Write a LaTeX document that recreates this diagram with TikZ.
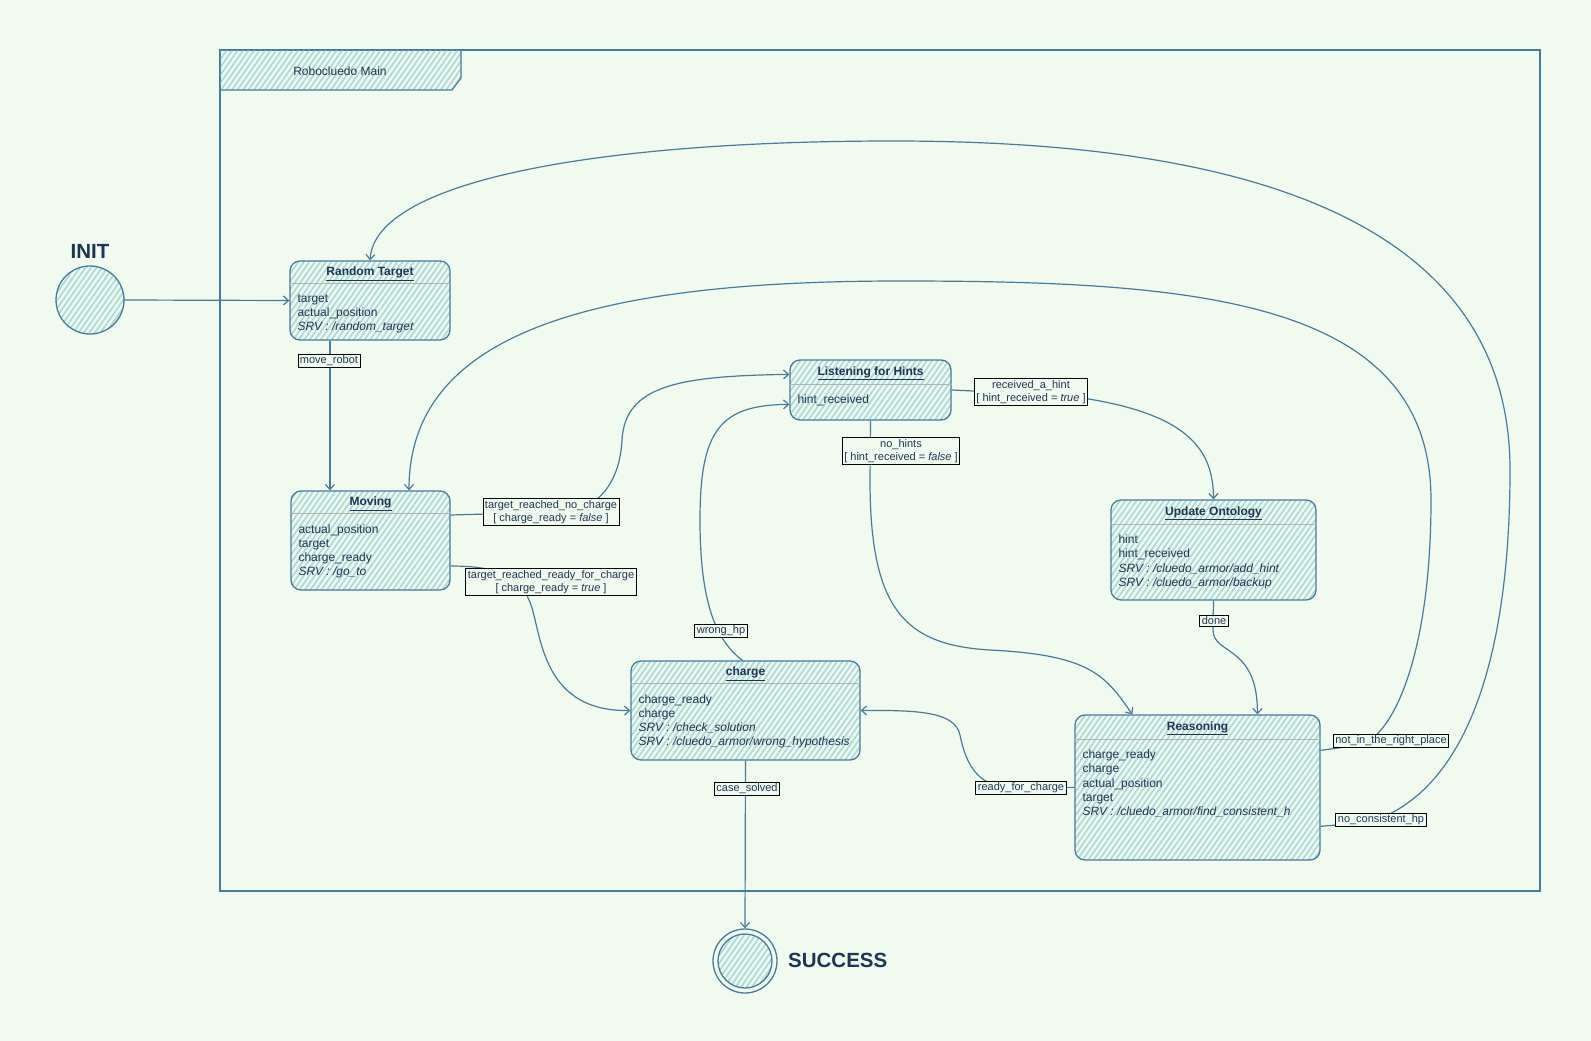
\documentclass[tikz,border=0pt]{standalone}
\usepackage{fontspec}
\setmainfont{Liberation Sans}
\usetikzlibrary{arrows.meta,patterns.meta,calc}
\definecolor{bgc}{HTML}{F1FAEE}
\definecolor{stk}{HTML}{457B9D}
\definecolor{hat}{HTML}{A8DADC}
\definecolor{fnt}{HTML}{1D3557}
\tikzset{
  hatchfill/.style={pattern={Lines[angle=55,distance=4.5pt,line width=1.7pt]}, pattern color=hat},
  stbox/.style={draw=stk, line width=1.3pt, rounded corners=10pt, hatchfill, inner sep=0pt},
  sttitle/.style={font=\fontsize{12}{14}\selectfont\bfseries, text=fnt, inner sep=0pt},
  stbody/.style={font=\fontsize{12}{14.2}\selectfont, text=fnt, align=left, anchor=north west, inner sep=0pt},
  hdrline/.style={draw=gray!60, line width=1pt},
  conn/.style={draw=stk, line width=1.2pt, -{Straight Barb[length=5pt,width=9pt]}},
  lbl/.style={draw=black, line width=0.8pt, fill=bgc, font=\fontsize{11}{13}\selectfont, text=fnt, inner xsep=2pt, inner ysep=1.5pt, align=center},
  bigtxt/.style={font=\fontsize{20.5}{24}\selectfont\bfseries, text=fnt, inner sep=0pt},
}
\begin{document}
\begin{tikzpicture}[x=1pt,y=-1pt]
\fill[bgc] (0,0) rectangle (1591,1041);
\useasboundingbox (0,0) rectangle (1591,1041);

% frame
\draw[stk, line width=1.2pt] (220,50) rectangle (1540,891);
\filldraw[draw=stk, line width=1.2pt, hatchfill] (220,50) -- (461,50) -- (461,78) -- (452,90) -- (220,90) -- cycle;
\node[font=\fontsize{12}{14}\selectfont, text=fnt] (ttl) at (340,71) {Robocluedo Main};

% initial / final
\node[bigtxt] (initlbl) at (90,251) {INIT};
\node[circle, draw=stk, line width=1.3pt, hatchfill, minimum size=68pt, inner sep=0pt] (init) at (90,300) {};
\node[circle, draw=stk, line width=1.3pt, minimum size=64pt, inner sep=0pt] (succ) at (745,961) {};
\node[circle, draw=stk, line width=1.3pt, hatchfill, minimum size=54pt, inner sep=0pt] (succin) at (745,961) {};
\node[bigtxt, anchor=west] (succlbl) at (788,960) {SUCCESS};

% Random Target
\node[stbox, minimum width=160pt, minimum height=79pt] (rt) at (370,300.5) {};
\node[sttitle] (rtt) at ($(rt.north)+(0,13.5)$) {\underline{Random Target}};
\draw[hdrline] ($(rt.north west)+(0,23)$) -- ($(rt.north east)+(0,23)$);
\node[stbody] (rtb) at ($(rt.north west)+(8,34)$) {target\\actual\_position\\\textit{SRV : /random\_target}};

% Moving
\node[stbox, minimum width=159pt, minimum height=99pt] (mv) at (370.5,540.5) {};
\node[sttitle] (mvt) at ($(mv.north)+(0,13.5)$) {\underline{Moving}};
\draw[hdrline] ($(mv.north west)+(0,23)$) -- ($(mv.north east)+(0,23)$);
\node[stbody] (mvb) at ($(mv.north west)+(8,34)$) {actual\_position\\target\\charge\_ready\\\textit{SRV : /go\_to}};

% Listening for Hints
\node[stbox, minimum width=161pt, minimum height=60pt] (ls) at (870.5,390) {};
\node[sttitle] (lst) at ($(ls.north)+(0,14)$) {\underline{Listening for Hints}};
\draw[hdrline] ($(ls.north west)+(0,25)$) -- ($(ls.north east)+(0,25)$);
\node[stbody] (lsb) at ($(ls.north west)+(8,35.5)$) {hint\_received};

% Update Ontology
\node[stbox, minimum width=205pt, minimum height=100pt] (uo) at (1213.5,550) {};
\node[sttitle] (uot) at ($(uo.north)+(0,14)$) {\underline{Update Ontology}};
\draw[hdrline] ($(uo.north west)+(0,25)$) -- ($(uo.north east)+(0,25)$);
\node[stbody] (uob) at ($(uo.north west)+(8,35.5)$) {hint\\hint\_received\\\textit{SRV : /cluedo\_armor/add\_hint}\\\textit{SRV : /cluedo\_armor/backup}};

% charge
\node[stbox, minimum width=229pt, minimum height=99pt] (ch) at (745.5,710.5) {};
\node[sttitle] (cht) at ($(ch.north)+(0,13.5)$) {\underline{charge}};
\draw[hdrline] ($(ch.north west)+(0,23)$) -- ($(ch.north east)+(0,23)$);
\node[stbody] (chb) at ($(ch.north west)+(8,34)$) {charge\_ready\\charge\\\textit{SRV : /check\_solution}\\\textit{SRV : /cluedo\_armor/wrong\_hypothesis}};

% Reasoning
\node[stbox, minimum width=245pt, minimum height=145pt] (rs) at (1197.5,787.5) {};
\node[sttitle] (rst) at ($(rs.north)+(0,14)$) {\underline{Reasoning}};
\draw[hdrline] ($(rs.north west)+(0,25)$) -- ($(rs.north east)+(0,25)$);
\node[stbody] (rsb) at ($(rs.north west)+(8,35.5)$) {charge\_ready\\charge\\actual\_position\\target\\\textit{SRV : /cluedo\_armor/find\_consistent\_h}};

% connectors
\draw[conn] (init.east) -- (rt.west);
\draw[conn] ($(rt.south)+(-40,0)$) -- ($(mv.north)+(-40.5,0)$);
\draw[conn] ($(mv.east)+(0,-25.5)$) -- (560,512) .. controls (600,511) and (620,480) .. (622,440)
   .. controls (625,385) and (680,376) .. ($(ls.north west)+(0,15)$);
\draw[conn] ($(mv.east)+(0,25.5)$) .. controls (500,566) and (522,578) .. (528,598)
   .. controls (542,622) and (535,712) .. (ch.west);
\draw[conn] ($(ch.north)+(-3,0)$) .. controls (715,640) and (700,600) .. (700,520)
   .. controls (700,430) and (720,405) .. ($(ls.north west)+(0,45)$);
\draw[conn] (ls.south) -- (870,480) .. controls (870,610) and (905,645) .. (990,650)
   .. controls (1090,655) and (1105,675) .. ($(rs.north west)+(58,0)$);
\draw[conn] (ls.east) -- (1060,395) .. controls (1190,410) and (1213,450) .. (uo.north);
\draw[conn] (uo.south) -- (1213,630) .. controls (1213,655) and (1258,645) .. ($(rs.north west)+(183,0)$);
\draw[conn] (rs.west) -- (1000,786) .. controls (975,782) and (965,760) .. (960,735)
   .. controls (955,712) and (920,710) .. (ch.east);
\draw[conn] (ch.south) -- (succ.north);
\draw[conn] ($(rs.north east)+(0,36)$) -- (1360,745) .. controls (1395,735) and (1431,650) .. (1431,500)
   .. controls (1431,300) and (1200,281) .. (900,281)
   .. controls (600,281) and (409,330) .. ($(mv.north)+(38.5,0)$);
\draw[conn] ($(rs.north east)+(0,112)$) -- (1370,822) .. controls (1470,790) and (1510,650) .. (1510,470)
   .. controls (1510,200) and (1200,141) .. (893,141)
   .. controls (600,141) and (375,180) .. (rt.north);

% labels
\node[lbl] (l1) at (329,361) {move\_robot};
\node[lbl] (l2) at (551,512) {target\_reached\_no\_charge\\{[} charge\_ready = \textit{false} {]}};
\node[lbl] (l3) at (551,582) {target\_reached\_ready\_for\_charge\\{[} charge\_ready = \textit{true} {]}};
\node[lbl] (l4) at (1031,392) {received\_a\_hint\\{[} hint\_received = \textit{true} {]}};
\node[lbl] (l5) at (901,451) {no\_hints\\{[} hint\_received = \textit{false} {]}};
\node[lbl] (l6) at (1214,621) {done};
\node[lbl] (l7) at (721,631) {wrong\_hp};
\node[lbl] (l8) at (747,789) {case\_solved};
\node[lbl] (l9) at (1021,788) {ready\_for\_charge};
\node[lbl] (l10) at (1391,741) {not\_in\_the\_right\_place};
\node[lbl] (l11) at (1381,820) {no\_consistent\_hp};
\end{tikzpicture}
\end{document}
